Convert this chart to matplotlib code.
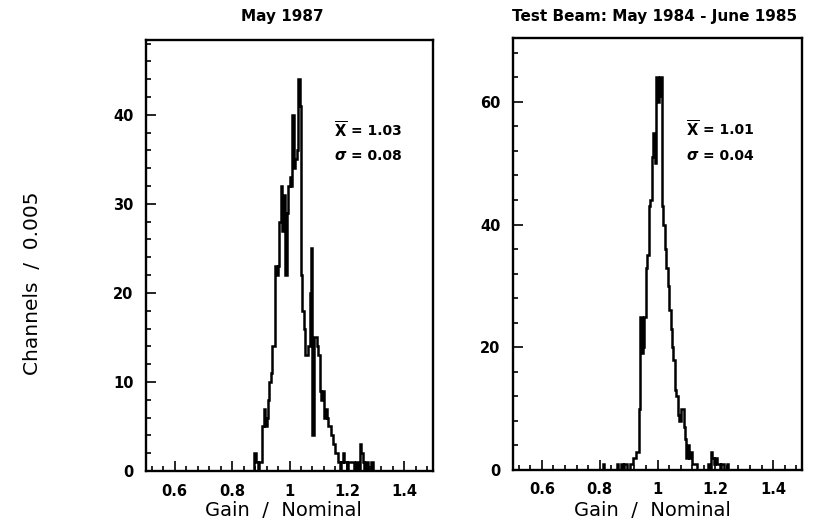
import numpy as np
import matplotlib
matplotlib.use("Agg")
import matplotlib.pyplot as plt
from matplotlib.ticker import MultipleLocator

# ---------------- data ----------------
bin_width = 0.005
x_min, x_max = 0.5, 1.5

# May 1987 : counts per 0.005 channel, starting at bin lower edge 0.870
may87_start = 0.870
may87_counts = [0, 2, 2, 1, 0, 1, 1, 5, 7, 5, 6, 8, 10, 11, 14, 14, 23, 22, 23, 28,
                32, 27, 31, 22, 29, 32, 33, 32, 40, 34, 35, 36, 44, 41, 22, 18, 16, 13,
                13, 14, 20, 25, 4, 15, 15, 14, 13, 9, 8, 9, 6, 7, 6, 5, 5, 4, 3, 3, 2, 2,
                1, 0, 1, 2, 1, 1, 0, 1, 1, 1, 1, 0, 1, 1, 0, 3, 2, 1, 0, 1, 1, 0, 0, 1,
                0, 0, 0]
may87_mean, may87_sigma = "1.03", "0.08"

# Test beam : counts per 0.005 channel, starting at bin lower edge 0.800
beam_start = 0.800
beam_counts = [0, 0, 1, 0, 0, 0, 0, 0, 0, 0, 0, 0, 1, 0, 0, 1, 0, 1, 1, 0,
               0, 1, 1, 2, 2, 3, 3, 10, 25, 19, 20, 25, 33, 35, 43, 44, 51, 55, 50, 64,
               60, 61, 64, 43, 40, 36, 33, 30, 26, 23, 20, 18, 13, 12, 9, 8, 10, 10, 7, 5,
               2, 4, 2, 3, 1, 1, 1, 0, 0, 0, 0, 0, 0, 0, 0, 1, 0, 3, 2, 1,
               2, 1, 1, 0, 1, 1, 0, 0, 1, 0]
beam_mean, beam_sigma = "1.01", "0.04"

titles = ["May 1987", "Test Beam: May 1984 - June 1985"]
xtick_vals = [0.6, 0.8, 1.0, 1.2, 1.4]
xtick_labels = ["0.6", "0.8", "1", "1.2", "1.4"]
left_yticks = [0, 10, 20, 30, 40]
right_yticks = [0, 20, 40, 60]

# ---------------- helpers ----------------
W, H = 830, 526


def fx(px):
    return px / W


def fy(py):
    return 1 - py / H


def full_counts(start, counts):
    n = int(round((x_max - x_min) / bin_width))
    full = np.zeros(n)
    i0 = int(round((start - x_min) / bin_width))
    full[i0:i0 + len(counts)] = counts
    return full


edges = np.linspace(x_min, x_max, int(round((x_max - x_min) / bin_width)) + 1)

fig = plt.figure(figsize=(W / 100, H / 100), dpi=100)
ax1 = fig.add_axes([fx(146), fy(471), (433 - 146) / W, (471 - 40) / H])
ax2 = fig.add_axes([fx(513), fy(470), (802 - 513) / W, (470 - 38) / H])

panels = [
    (ax1, may87_start, may87_counts, left_yticks, 2),
    (ax2, beam_start, beam_counts, right_yticks, 4),
]

for ax, start, counts, yt, yminor in panels:
    full = full_counts(start, counts)
    ax.stairs(full, edges, color="black", lw=1.8, baseline=0)
    ax.set_xlim(x_min, x_max)
    ax.set_ylim(0, 1.1 * max(counts))
    ax.set_xticks(xtick_vals)
    ax.set_xticklabels(xtick_labels)
    ax.set_yticks(yt)
    ax.xaxis.set_minor_locator(MultipleLocator(0.04))
    ax.yaxis.set_minor_locator(MultipleLocator(yminor))
    ax.tick_params(which="both", direction="in", top=False, right=False, width=1.2)
    ax.tick_params(which="major", length=7, labelsize=10.5, pad=9)
    ax.tick_params(which="minor", length=3.5)
    for lab in ax.get_xticklabels() + ax.get_yticklabels():
        lab.set_fontweight("bold")
    for s in ax.spines.values():
        s.set_linewidth(1.7)

# titles
fig.text(fx(282), fy(16), titles[0], ha="center", va="center",
         fontsize=11, fontweight="bold")
fig.text(fx(655), fy(16), titles[1], ha="center", va="center",
         fontsize=11, fontweight="bold")

# axis labels
for cx in (283, 652):
    fig.text(fx(cx), fy(511), "Gain  /  Nominal", ha="center", va="center",
             fontsize=14)
fig.text(fx(33), fy(283), "Channels  /  0.005", ha="center", va="center",
         fontsize=14.5, rotation=90)

# statistics annotations
for x0, y1, y2, mean, sig in [(334, 131, 156, may87_mean, may87_sigma),
                              (686, 130, 156, beam_mean, beam_sigma)]:
    fig.text(fx(x0), fy(y1), r"$\overline{\mathbf{X}}$", ha="left", va="center",
             fontsize=10.5)
    fig.text(fx(x0 + 17), fy(y1), "= " + mean, ha="left", va="center",
             fontsize=10, fontweight="bold")
    fig.text(fx(x0), fy(y2), "σ", ha="left", va="center",
             fontsize=10.5, fontweight="bold", fontstyle="italic")
    fig.text(fx(x0 + 17), fy(y2), "= " + sig, ha="left", va="center",
             fontsize=10, fontweight="bold")

fig.savefig("out.png", dpi=100)
